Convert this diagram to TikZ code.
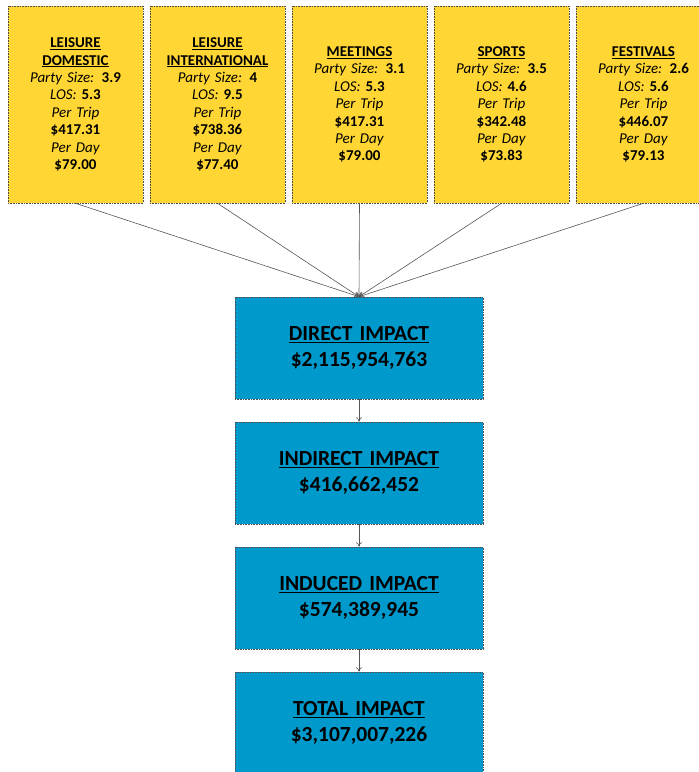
\documentclass[tikz,border=0pt]{standalone}
\usepackage{fontspec}
\setmainfont{Carlito}
\usepackage[HTML]{xcolor}
\usetikzlibrary{positioning, arrows.meta}

\definecolor{segyellow}{HTML}{FFD633}
\definecolor{impblue}{HTML}{0099CC}
\definecolor{boxline}{HTML}{4D4D4D}
\definecolor{linkgray}{HTML}{555555}

\begin{document}
\begin{tikzpicture}[x=1pt, y=-1pt,
  segbox/.style={draw=boxline, densely dotted, line width=0.6pt, fill=segyellow,
    minimum width=135pt, minimum height=197pt, inner sep=0pt,
    text width=133pt, align=center, font=\fontsize{15}{17.4}\selectfont},
  impbox/.style={draw=boxline, densely dotted, line width=0.6pt, fill=impblue,
    minimum width=248pt, minimum height=102pt, inner sep=0pt,
    text width=246pt, align=center, font=\fontsize{21.5}{25.5}\selectfont\bfseries},
  link/.style={draw=linkgray, line width=0.6pt, -{To[length=4.5pt,width=6pt]}}]
\useasboundingbox (0,0) rectangle (699,772);

% Top: visitor segments (yellow)
\node[segbox] (leisdom) at (75.5,104.5) {\textbf{\underline{LEISURE}}\\\textbf{\underline{DOMESTIC}}\\
  {\itshape Party Size:} \textbf{3.9}\\{\itshape LOS:} \textbf{5.3}\\\textit{Per Trip}\\\textbf{\$417.31}\\\textit{Per Day}\\\textbf{\$79.00}};
\node[segbox] (leisint) at (217.5,104.5) {\textbf{\underline{LEISURE}}\\\textbf{\underline{INTERNATIONAL}}\\
  {\itshape Party Size:} \textbf{4}\\{\itshape LOS:} \textbf{9.5}\\\textit{Per Trip}\\\textbf{\$738.36}\\\textit{Per Day}\\\textbf{\$77.40}};
\node[segbox] (meet) at (359.5,104.5) {\textbf{\underline{MEETINGS}}\\
  {\itshape Party Size:} \textbf{3.1}\\{\itshape LOS:} \textbf{5.3}\\\textit{Per Trip}\\\textbf{\$417.31}\\\textit{Per Day}\\\textbf{\$79.00}};
\node[segbox] (sport) at (501.5,104.5) {\textbf{\underline{SPORTS}}\\
  {\itshape Party Size:} \textbf{3.5}\\{\itshape LOS:} \textbf{4.6}\\\textit{Per Trip}\\\textbf{\$342.48}\\\textit{Per Day}\\\textbf{\$73.83}};
\node[segbox] (fest) at (643.5,104.5) {\textbf{\underline{FESTIVALS}}\\
  {\itshape Party Size:} \textbf{2.6}\\{\itshape LOS:} \textbf{5.6}\\\textit{Per Trip}\\\textbf{\$446.07}\\\textit{Per Day}\\\textbf{\$79.13}};

% Bottom: impact chain (blue)
\node[impbox] (direct) at (359,348) {\underline{DIRECT IMPACT}\\\$2,115,954,763};
\node[impbox] (indirect) at (359,473) {\underline{INDIRECT IMPACT}\\\$416,662,452};
\node[impbox] (induced) at (359,598) {\underline{INDUCED IMPACT}\\\$574,389,945};
\node[impbox] (total) at (359,723) {\underline{TOTAL IMPACT}\\\$3,107,007,226};

% Connectors
\foreach \seg in {leisdom, leisint, meet, sport, fest}
  \draw[link] (\seg.south) -- (direct.north);
\draw[link] (direct) -- (indirect);
\draw[link] (indirect) -- (induced);
\draw[link] (induced) -- (total);
\end{tikzpicture}
\end{document}
